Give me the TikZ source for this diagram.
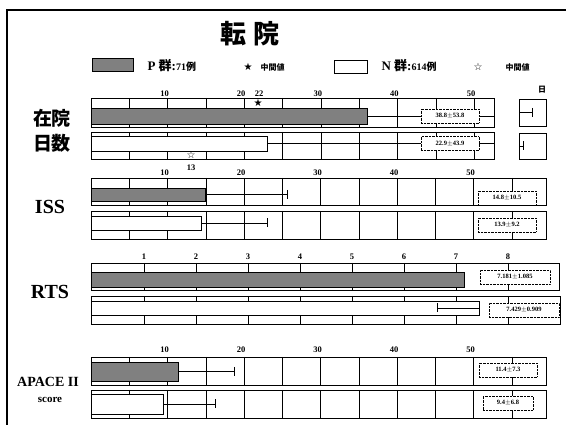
\documentclass[tikz,border=0pt]{standalone}
\usepackage{fontspec}
\setmainfont{Liberation Serif}
\newfontfamily\jpfont{Noto Sans CJK JP}
\newfontfamily\symfont{DejaVu Sans}

\begin{document}
\begin{tikzpicture}[x=1pt, y=-1pt,
    row/.style={draw, line width=0.6pt},
    gridline/.style={line width=0.4pt},
    pbar/.style={draw, line width=0.9pt, fill=black!50},
    nbar/.style={draw, line width=0.6pt, fill=white},
    errbar/.style={line width=0.8pt},
    value/.style={draw, densely dotted, fill=white, minimum width=58pt, minimum height=14pt, inner sep=1pt, font=\fontsize{6.5}{7}\selectfont\bfseries},
    tick/.style={font=\fontsize{8.5}{9}\selectfont\bfseries},
    item/.style={font=\fontsize{20}{22}\selectfont\bfseries},
    jpitem/.style={font=\jpfont\fontsize{19}{21}\selectfont\bfseries},
    legend/.style={anchor=west, font=\fontsize{13}{15}\selectfont\bfseries},
    median/.style={font=\symfont\fontsize{10}{11}\selectfont}
]
\useasboundingbox (0,0) rectangle (566,425);

% Frame
\draw[line width=1.6pt] (7,425) -- (7,10) -- (566,10);

% Title and legend
\node[font=\jpfont\fontsize{26}{28}\selectfont\bfseries] (title) at (250,34) {転\hspace{7pt}院};
\draw[pbar] (92,58) rectangle (133,71);
\node[legend] (legP) at (144,66) {P {\jpfont 群}:{\fontsize{10}{11}\selectfont 71}{\jpfont\fontsize{10}{11}\selectfont 例}};
\node[median] (medP) at (248,67) {★};
\node[anchor=west, font=\jpfont\fontsize{8}{9}\selectfont\bfseries] (medPtxt) at (257,67) {中間値};
\draw[nbar] (334,60) rectangle (367,73);
\node[legend] (legN) at (378,66) {N {\jpfont 群}:{\fontsize{10}{11}\selectfont 614}{\jpfont\fontsize{10}{11}\selectfont 例}};
\node[median] (medN) at (478,67) {☆};
\node[anchor=west, font=\jpfont\fontsize{8}{9}\selectfont\bfseries] (medNtxt) at (502,67) {中間値};

% 在院日数
\node[jpitem] (stay1) at (52,118) {在院};
\node[jpitem] (stay2) at (52,143) {日数};
\draw[row] (91,98) rectangle (494,127);
\draw[row] (91,132) rectangle (494,159);
\foreach \k in {1,...,10}
    \draw[gridline] (91+38.3*\k,98) -- (91+38.3*\k,127) (91+38.3*\k,132) -- (91+38.3*\k,159);
\foreach \v in {10,20,30,40,50}
    \node[tick] at (91+7.66*\v-3,94) {\v};
\node[tick] at (259,94) {22};
\node[font=\jpfont\fontsize{8}{9}\selectfont\bfseries] (day) at (542,90) {日};
\draw[pbar] (91,108) rectangle (367,124);
\draw[errbar] (367,116) -- (494,116);
\node[value] (stayP) at (450,116) {38.8$\pm$53.8};
\draw[nbar] (91,136) rectangle (267,151);
\draw[errbar] (267,143.5) -- (494,143.5);
\node[value] (stayN) at (450,143.5) {22.9$\pm$43.9};
\node[median] at (258,103) {★};
\node[median] at (191,155) {☆};
\node[tick] at (191,168) {13};
% break boxes
\draw[row] (519,99) rectangle (546,126);
\draw[errbar] (519,112.5) -- (532,112.5) (532,108) -- (532,117);
\draw[row] (519,133) rectangle (546,159);
\draw[errbar] (519,146) -- (523,146) (523,141.5) -- (523,150.5);

% ISS
\node[item] (iss) at (50,207) {ISS};
\draw[row] (91,178) rectangle (546,205);
\draw[row] (91,211) rectangle (546,239);
\foreach \k in {1,...,11}
    \draw[gridline] (91+38.25*\k,178) -- (91+38.25*\k,205) (91+38.25*\k,211) -- (91+38.25*\k,239);
\foreach \v in {10,20,30,40,50}
    \node[tick] at (91+7.65*\v-3,173) {\v};
\draw[pbar] (91,188) rectangle (205,201);
\draw[errbar] (205,194.5) -- (287,194.5) (287,190) -- (287,199);
\draw[nbar] (91,216) rectangle (201,230);
\draw[errbar] (201,223) -- (267,223) (267,218.5) -- (267,227.5);
\node[value] (issP) at (507,198) {14.8$\pm$10.5};
\node[value] (issN) at (507,225) {13.9$\pm$9.2};

% RTS
\node[item] (rts) at (50,292) {RTS};
\draw[row] (91,263) rectangle (559,290);
\draw[row] (91,296) rectangle (560,324);
\foreach \k in {1,...,8}
    \draw[gridline] (92+52*\k,263) -- (92+52*\k,290) (92+52*\k,296) -- (92+52*\k,324);
\foreach \v in {1,...,8}
    \node[tick] at (92+52*\v,257) {\v};
\draw[pbar] (91,272) rectangle (464,287);
\node[value, minimum width=70pt] (rtsP) at (515,277) {7.181$\pm$1.085};
\draw[nbar] (91,301) rectangle (479,315);
\draw[errbar] (479,308) -- (437,308) (437,303.5) -- (437,312.5);
\node[value, minimum width=70pt] (rtsN) at (524,310) {7.429$\pm$0.909};

% APACHE II
\node[font=\fontsize{14}{16}\selectfont\bfseries] (apa1) at (48,382) {APACE II};
\node[font=\fontsize{11}{12}\selectfont\bfseries] (apa2) at (50,400) {score};
\draw[row] (91,357) rectangle (546,385);
\draw[row] (91,390) rectangle (546,418);
\foreach \k in {1,...,11}
    \draw[gridline] (91+38.25*\k,357) -- (91+38.25*\k,385) (91+38.25*\k,390) -- (91+38.25*\k,418);
\foreach \v in {10,20,30,40,50}
    \node[tick] at (91+7.65*\v-3,350) {\v};
\draw[pbar] (91,362) rectangle (178,381);
\draw[errbar] (178,371.5) -- (234,371.5) (234,367) -- (234,376);
\draw[nbar] (91,394) rectangle (163,414);
\draw[errbar] (163,404) -- (215,404) (215,399.5) -- (215,408.5);
\node[value] (apaP) at (508,370) {11.4$\pm$7.3};
\node[value, minimum width=50pt] (apaN) at (508,403) {9.4$\pm$6.8};

\end{tikzpicture}
\end{document}
